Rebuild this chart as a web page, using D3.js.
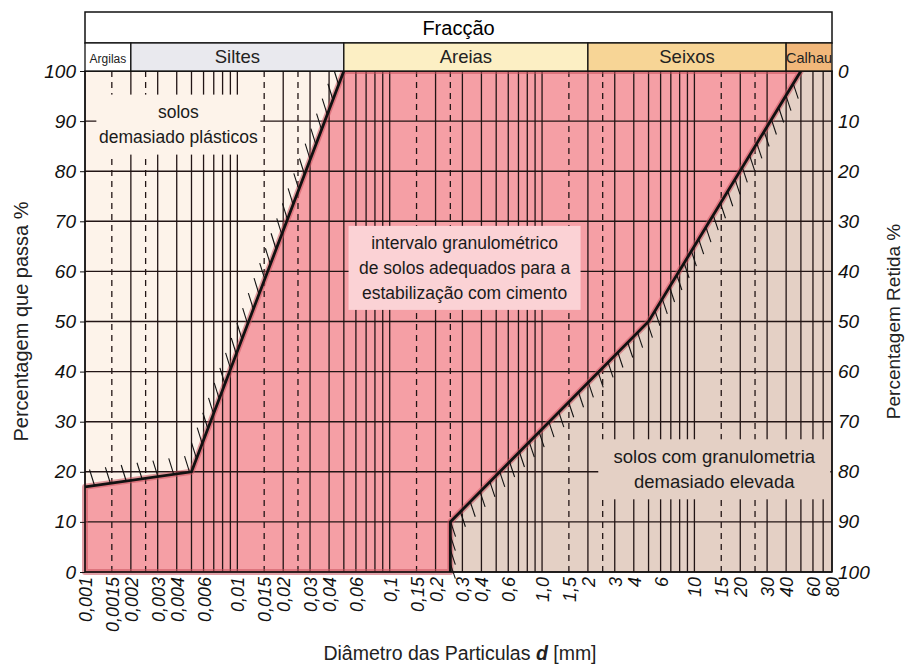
<!DOCTYPE html>
<html><head><meta charset="utf-8">
<script src="https://cdn.jsdelivr.net/npm/d3@7"></script>
<style>body{margin:0;background:#fff} text{font-family:"Liberation Sans",Arial,sans-serif}</style>
</head><body><svg id="c" width="906" height="665"></svg>
<script>
// ---------- data ----------
const xTickValues = [0.001,0.0015,0.002,0.003,0.004,0.006,0.01,0.015,0.02,0.03,0.04,0.06,0.1,0.15,0.2,0.3,0.4,0.6,1,1.5,2,3,4,6,10,15,20,30,40,60,80];
const xTickLabels = ["0,001","0,0015","0,002","0,003","0,004","0,006","0,01","0,015","0,02","0,03","0,04","0,06","0,1","0,15","0,2","0,3","0,4","0,6","1,0","1,5","2","3","4","6","10","15","20","30","40","60","80"];
const yTicks = [0,10,20,30,40,50,60,70,80,90,100];
const dashedGrid = [0.0015,0.0025,0.015,0.025,0.15,0.25,1.5,2.5,15,25];
const fractions = ["Argilas","Siltes","Areias","Seixos","Calhau"];
const fractionFrom = [0.001,0.002,0.05,2,40];
const fractionTo = [0.002,0.05,2,40,80];
const fractionColors = ["#ffffff","#e9e9ee","#fcefc4","#f7d596","#f1b77a"];
// upper grading limit (finer boundary)
const upperD = [0.001,0.005,0.05];
const upperP = [17,20,100];
// lower grading limit (coarser boundary)
const lowerD = [0.25,0.25,5,50];
const lowerP = [0,10,50,100];

// ---------- layout ----------
const svg = d3.select("#c");
const L = 85, R = 832, T = 71, B = 572;
const x = d3.scaleLog().domain([0.001,80]).range([L,R]);
const y = d3.scaleLinear().domain([0,100]).range([B,T]);
const yR = d3.scaleLinear().domain([100,0]).range([B,T]);

// backgrounds
svg.append("rect").attr("x",L).attr("y",T).attr("width",R-L).attr("height",B-T).attr("fill","#fdf3ea");
const upper = upperD.map((d,i)=>[d,upperP[i]]);
const lower = lowerD.map((d,i)=>[d,lowerP[i]]);
const toPx = p => [x(p[0]), y(p[1])];
const tanPoly = lower.concat([[80,100],[80,0]]);
svg.append("path").attr("d", d3.line()(tanPoly.map(toPx)) + "Z").attr("fill","#e4d0c5");
const redPoly = [[0.001,0]].concat(upper).concat(lower.slice().reverse());
const redPath = d3.line()(redPoly.map(toPx)) + "Z";
svg.append("path").attr("d", redPath).attr("fill","#f59fa5");

// grid
const grid = svg.append("g");
grid.selectAll(".vs").data(x.ticks()).join("line")
  .attr("x1",d=>x(d)).attr("x2",d=>x(d)).attr("y1",T).attr("y2",B)
  .attr("stroke","#221515").attr("stroke-width",1.3);
grid.selectAll(".vd").data(dashedGrid).join("line")
  .attr("x1",d=>x(d)).attr("x2",d=>x(d)).attr("y1",T).attr("y2",B)
  .attr("stroke","#221515").attr("stroke-width",1.3).attr("stroke-dasharray","6,5");
grid.selectAll(".h").data(yTicks).join("line")
  .attr("x1",L).attr("x2",R).attr("y1",d=>y(d)).attr("y2",d=>y(d))
  .attr("stroke","#221515").attr("stroke-width",1.4);

// red outline glow
svg.append("path").attr("d", redPath).attr("fill","none")
  .attr("stroke","#c9505c").attr("stroke-opacity",0.55).attr("stroke-width",6).attr("stroke-linejoin","round");

// annotation boxes & texts
function note(cx, cy, w, h, fill, lines, fs, lh) {
  svg.append("rect").attr("x",cx-w/2).attr("y",cy-h/2).attr("width",w).attr("height",h).attr("fill",fill);
  const t = svg.append("text").attr("text-anchor","middle").attr("font-size",fs).attr("fill","#1a1a1a");
  lines.forEach((s,i)=>t.append("tspan").attr("x",cx).attr("y",cy - (lines.length-1)*lh/2 + i*lh + fs*0.35).text(s));
}
note(x(0.0041), y(89.3), 164, 60, "#fdf3ea", ["solos","demasiado plásticos"], 17.5, 25);
note(x(0.31), y(60.7), 232, 84, "#fbd2d5", ["intervalo granulométrico","de solos adequados para a","estabilização com cimento"], 17.5, 25);
note(x(13.5), y(20.5), 232, 60, "#e4d0c5", ["solos com granulometria","demasiado elevada"], 18.5, 25);

// limit curves
const line = d3.line().x(d=>x(d[0])).y(d=>y(d[1]));
const upPath = svg.append("path").attr("d", line(upper)).attr("fill","none").attr("stroke","#111").attr("stroke-width",2.8);
const loPath = svg.append("path").attr("d", line(lower)).attr("fill","none").attr("stroke","#111").attr("stroke-width",2.8);
function hatch(node, dx, dy, step) {
  const len = node.getTotalLength(), pts = [];
  for (let s = step*0.6; s < len - 4; s += step) pts.push(node.getPointAtLength(s));
  svg.append("g").selectAll("line").data(pts).join("line")
    .attr("x1",p=>p.x).attr("y1",p=>p.y).attr("x2",p=>p.x+dx).attr("y2",p=>p.y+dy)
    .attr("stroke","#111").attr("stroke-width",1.1);
}
hatch(upPath.node(), -5, -16, 16);
hatch(loPath.node(), 5, 15, 14);

// frame
svg.append("rect").attr("x",L).attr("y",T).attr("width",R-L).attr("height",B-T).attr("fill","none").attr("stroke","#111").attr("stroke-width",1.5);

// header
const H0 = 12, H1 = 43;
svg.append("rect").attr("x",L).attr("y",H0).attr("width",R-L).attr("height",H1-H0).attr("fill","#fff").attr("stroke","#111").attr("stroke-width",1.5);
svg.append("text").attr("x",(L+R)/2).attr("y",(H0+H1)/2+7).attr("text-anchor","middle").attr("font-size",20).text("Fracção");
const fr = svg.append("g");
fr.selectAll("rect").data(fractions).join("rect")
  .attr("x",(d,i)=>x(fractionFrom[i])).attr("y",H1).attr("width",(d,i)=>x(fractionTo[i])-x(fractionFrom[i])).attr("height",T-H1)
  .attr("fill",(d,i)=>fractionColors[i]).attr("stroke","#111").attr("stroke-width",1.3);
const fs = [12,18.5,18.5,18.5,14.5];
fr.selectAll("text").data(fractions).join("text")
  .attr("x",(d,i)=>(x(fractionFrom[i])+x(fractionTo[i]))/2).attr("y",(T+H1)/2+6)
  .attr("text-anchor","middle").attr("font-size",(d,i)=>fs[i]).attr("fill","#222").text(d=>d);

// axes
const ax = svg.append("g").attr("transform",`translate(${L},0)`)
  .call(d3.axisLeft(y).tickValues(yTicks).tickSize(5).tickPadding(4));
ax.select(".domain").remove();
ax.selectAll("text").attr("font-size",19).attr("font-style","italic").attr("font-family","Liberation Sans, Arial").attr("fill","#111");
ax.selectAll("line").attr("stroke","#111");
const ar = svg.append("g").attr("transform",`translate(${R},0)`)
  .call(d3.axisRight(yR).tickValues(yTicks).tickSize(0).tickPadding(6));
ar.select(".domain").remove();
ar.selectAll("text").attr("font-size",19).attr("font-style","italic").attr("font-family","Liberation Sans, Arial").attr("fill","#111");
const bx = svg.append("g").attr("transform",`translate(0,${B})`)
  .call(d3.axisBottom(x).tickValues(xTickValues).tickFormat((d,i)=>xTickLabels[i]).tickSize(0));
bx.select(".domain").remove();
bx.selectAll("text").attr("transform","rotate(-90)").attr("text-anchor","end")
  .attr("x",-5).attr("y",0).attr("dy","0.36em")
  .attr("font-size",18).attr("font-style","italic").attr("font-family","Liberation Sans, Arial").attr("fill","#111");

// titles
svg.append("text").attr("transform",`translate(21,${(T+B)/2}) rotate(-90)`).attr("text-anchor","middle").attr("dy","0.35em").attr("font-size",20).attr("fill","#222").text("Percentagem que passa %");
svg.append("text").attr("transform",`translate(893,${(T+B)/2}) rotate(-90)`).attr("text-anchor","middle").attr("dy","0.35em").attr("font-size",19).attr("fill","#222").text("Percentagem Retida %");
const xt = svg.append("text").attr("x",460).attr("y",660).attr("text-anchor","middle").attr("font-size",19.5).attr("fill","#222");
xt.append("tspan").text("Diâmetro das Particulas ");
xt.append("tspan").attr("font-weight","bold").attr("font-style","italic").text("d");
xt.append("tspan").text(" [mm]");
</script></body></html>
